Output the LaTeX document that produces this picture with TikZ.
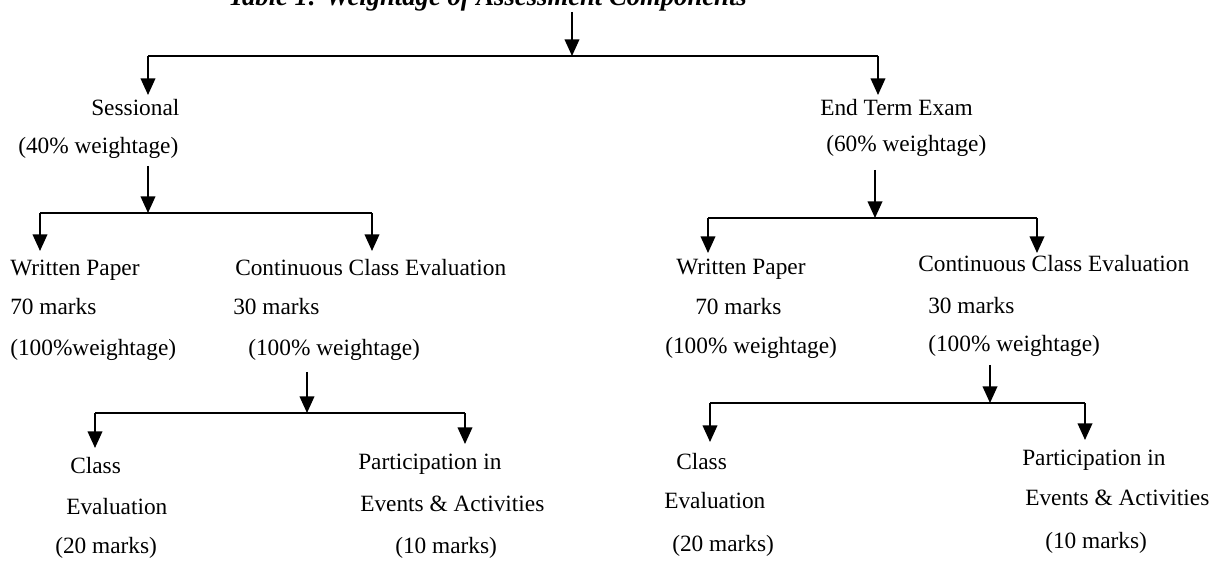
\documentclass[tikz,border=0pt]{standalone}
\usepackage{fontspec}
\setmainfont{Liberation Serif}
\usetikzlibrary{arrows.meta}
\begin{document}
\begin{tikzpicture}[x=0.75pt,y=-0.75pt,
  lbl/.style={anchor=mid west,inner sep=0pt,font=\fontsize{17.5}{21}\selectfont},
  conn/.style={line width=1.3pt,black},
  arr/.style={conn,-{Triangle[width=11pt,length=12.5pt]}}]
\useasboundingbox (0,0) rectangle (1225,566);
\clip (0,0) rectangle (1225,566);
\fill[white] (0,0) rectangle (1225,566);
% title (cut off at the top, as in the reference)
\node[anchor=base west,inner sep=0pt,font=\fontsize{20}{24}\selectfont\bfseries\itshape] (title) at (228,6) {Table 1: Weightage of Assessment Components};
% level 1
\coordinate (b1M) at (572,56);
\coordinate (b1L) at (148,56);
\coordinate (b1R) at (878,56);
\draw[arr] (572,12) -- (b1M);
\draw[conn] (b1L) -- (b1R);
\coordinate (tS) at (148,95);
\coordinate (tE) at (878,95);
\draw[arr] (b1L) -- (tS);
\draw[arr] (b1R) -- (tE);
% Sessional
\node[lbl] (s1) at (91,112) {Sessional};
\node[lbl] (s2) at (18,150) {(40\% weightage)};
% End term
\node[lbl] (e1) at (820,112) {End Term Exam};
\node[lbl] (e2) at (826,148) {(60\% weightage)};
% level 2 left
\coordinate (b2M) at (148,213);
\coordinate (b2L) at (40,213);
\coordinate (b2R) at (372,213);
\draw[arr] (148,166) -- (b2M);
\draw[conn] (b2L) -- (b2R);
\draw[arr] (b2L) -- (40,251);
\draw[arr] (b2R) -- (372,251);
\node[lbl] (lw1) at (10,272) {Written Paper};
\node[lbl] (lw2) at (10,311) {70 marks};
\node[lbl] (lw3) at (10,352) {(100\%weightage)};
\node[lbl] (lc1) at (235,272) {Continuous Class Evaluation};
\node[lbl] (lc2) at (233,311) {30 marks};
\node[lbl] (lc3) at (248,352) {(100\% weightage)};
% level 2 right
\coordinate (b3M) at (875,218);
\coordinate (b3L) at (708,218);
\coordinate (b3R) at (1037,218);
\draw[arr] (875,170) -- (b3M);
\draw[conn] (b3L) -- (b3R);
\draw[arr] (b3L) -- (708,253);
\draw[arr] (b3R) -- (1037,253);
\node[lbl] (rw1) at (676,271) {Written Paper};
\node[lbl] (rw2) at (695,311) {70 marks};
\node[lbl] (rw3) at (665,350) {(100\% weightage)};
\node[lbl] (rc1) at (918,268) {Continuous Class Evaluation};
\node[lbl] (rc2) at (928,310) {30 marks};
\node[lbl] (rc3) at (928,348) {(100\% weightage)};
% level 3 left
\coordinate (b4M) at (307,413);
\coordinate (b4L) at (95,413);
\coordinate (b4R) at (465,413);
\draw[arr] (307,372) -- (b4M);
\draw[conn] (b4L) -- (b4R);
\draw[arr] (b4L) -- (95,448);
\draw[arr] (b4R) -- (465,444);
\node[lbl] (lce1) at (70,470) {Class};
\node[lbl] (lce2) at (66,511) {Evaluation};
\node[lbl] (lce3) at (55,550) {(20 marks)};
\node[lbl] (lpe1) at (358,466) {Participation in};
\node[lbl] (lpe2) at (360,508) {Events \& Activities};
\node[lbl] (lpe3) at (395,550) {(10 marks)};
% level 3 right
\coordinate (b5M) at (990,403);
\coordinate (b5L) at (710,403);
\coordinate (b5R) at (1085,403);
\draw[arr] (990,365) -- (b5M);
\draw[conn] (b5L) -- (b5R);
\draw[arr] (b5L) -- (710,442);
\draw[arr] (b5R) -- (1085,440);
\node[lbl] (rce1) at (676,466) {Class};
\node[lbl] (rce2) at (664,505) {Evaluation};
\node[lbl] (rce3) at (672,548) {(20 marks)};
\node[lbl] (rpe1) at (1022,462) {Participation in};
\node[lbl] (rpe2) at (1025,502) {Events \& Activities};
\node[lbl] (rpe3) at (1045,545) {(10 marks)};
\end{tikzpicture}
\end{document}
